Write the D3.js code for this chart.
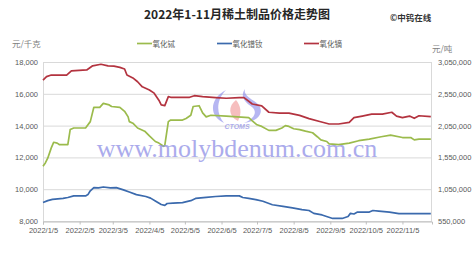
<!DOCTYPE html>
<html><head><meta charset="utf-8">
<script src="https://cdn.jsdelivr.net/npm/d3@7"></script>
<style>html,body{margin:0;padding:0;background:#fff;}svg{display:block;}</style>
</head><body><svg id="c" width="474" height="257"></svg>
<script>
// ---- data ----
const title = "2022年1-11月稀土制品价格走势图";
const seriesNames = ["氧化铽", "氧化镨钕", "氧化镝"];
const leftTicks = [8000, 10000, 12000, 14000, 16000, 18000];
const rightTicks = [550000, 1050000, 1550000, 2050000, 2550000, 3050000];
const xTickLabels = ["2022/1/5","2022/2/5","2022/3/5","2022/4/5","2022/5/5","2022/6/5","2022/7/5","2022/8/5","2022/9/5","2022/10/5","2022/11/5"];

// 氧化铽 (left axis, 元/千克)
const tbDates = ["2022/1/5","2022/1/7","2022/1/9","2022/1/12","2022/1/14","2022/1/17","2022/1/19","2022/1/26","2022/1/28","2022/1/31","2022/2/10","2022/2/14","2022/2/17","2022/2/22","2022/2/25","2022/3/2","2022/3/4","2022/3/11","2022/3/15","2022/3/18","2022/3/19","2022/3/22","2022/3/26","2022/4/1","2022/4/5","2022/4/10","2022/4/13","2022/4/17","2022/4/18","2022/4/21","2022/4/23","2022/5/3","2022/5/6","2022/5/10","2022/5/12","2022/5/17","2022/5/20","2022/5/23","2022/5/27","2022/6/9","2022/6/28","2022/7/1","2022/7/5","2022/7/9","2022/7/15","2022/7/21","2022/7/26","2022/7/29","2022/8/1","2022/8/5","2022/8/10","2022/8/15","2022/8/21","2022/8/25","2022/8/28","2022/9/2","2022/9/4","2022/9/12","2022/9/21","2022/9/29","2022/10/8","2022/10/18","2022/10/26","2022/11/5","2022/11/12","2022/11/15","2022/11/19","2022/11/29"];
const tbValues = [11450,11650,11950,12600,12950,12900,12800,12800,13750,13850,13850,14250,15150,15150,15400,15300,15200,15150,14900,14550,14250,14150,13850,13650,13350,13000,12900,12700,12750,14250,14350,14350,14450,14650,15200,15250,14800,14550,14650,14600,14500,14300,14050,13950,13700,13700,13850,14000,13950,13800,13750,13650,13550,13300,13100,13000,12850,12800,12900,13050,13150,13300,13400,13250,13250,13100,13150,13150];

// 氧化镨钕 (right axis, 元/吨)
const prndDates = ["2022/1/5","2022/1/9","2022/1/13","2022/1/22","2022/1/26","2022/1/31","2022/2/10","2022/2/12","2022/2/14","2022/2/17","2022/2/21","2022/2/25","2022/3/3","2022/3/8","2022/3/14","2022/3/19","2022/3/25","2022/4/2","2022/4/6","2022/4/10","2022/4/15","2022/4/18","2022/4/20","2022/4/25","2022/5/3","2022/5/10","2022/5/14","2022/5/23","2022/5/31","2022/6/9","2022/6/20","2022/6/23","2022/6/28","2022/7/4","2022/7/10","2022/7/18","2022/7/27","2022/8/4","2022/8/12","2022/8/18","2022/8/22","2022/8/29","2022/9/7","2022/9/15","2022/9/20","2022/9/22","2022/9/25","2022/9/28","2022/10/8","2022/10/11","2022/10/16","2022/10/25","2022/11/2","2022/11/29"];
const prndValues = [840000,870000,890000,905000,920000,945000,945000,965000,1025000,1075000,1070000,1085000,1070000,1075000,1040000,1005000,965000,935000,910000,865000,810000,795000,825000,830000,840000,870000,905000,920000,935000,945000,945000,920000,905000,885000,860000,805000,780000,755000,730000,715000,670000,645000,590000,590000,620000,670000,660000,690000,690000,715000,705000,690000,665000,665000];

// 氧化镝 (right axis, 元/吨)
const dyDates = ["2022/1/5","2022/1/8","2022/1/12","2022/1/25","2022/1/29","2022/2/11","2022/2/16","2022/2/23","2022/3/1","2022/3/6","2022/3/11","2022/3/15","2022/3/17","2022/3/22","2022/3/26","2022/3/30","2022/4/5","2022/4/9","2022/4/13","2022/4/15","2022/4/18","2022/4/21","2022/4/23","2022/5/9","2022/5/13","2022/5/20","2022/5/31","2022/6/9","2022/6/20","2022/6/24","2022/7/1","2022/7/9","2022/7/15","2022/7/24","2022/8/1","2022/8/10","2022/8/18","2022/8/27","2022/9/4","2022/9/12","2022/9/21","2022/9/25","2022/10/2","2022/10/10","2022/10/19","2022/10/27","2022/10/31","2022/11/5","2022/11/11","2022/11/15","2022/11/19","2022/11/29"];
const dyValues = [2765000,2820000,2845000,2845000,2910000,2925000,2990000,3015000,2990000,2985000,2965000,2940000,2845000,2800000,2740000,2660000,2610000,2560000,2450000,2375000,2365000,2505000,2495000,2495000,2520000,2505000,2490000,2480000,2490000,2490000,2390000,2360000,2260000,2245000,2245000,2210000,2160000,2115000,2075000,2075000,2100000,2175000,2200000,2230000,2230000,2260000,2200000,2175000,2200000,2165000,2205000,2190000];

// ---- chart ----
const parse = d3.timeParse("%Y/%m/%d");
const fmtX = d3.timeFormat("%Y/%-m/%-d");
const svg = d3.select("#c");
const L = 43, R = 432, T = 62, B = 221;
const font = "'Liberation Sans', Arial, sans-serif";
const cjk = "'Noto Sans CJK SC', sans-serif";

const x = d3.scaleTime().domain([parse("2022/1/5"), parse("2022/11/30")]).range([L, R]);
const yL = d3.scaleLinear().domain([8000, 18000]).range([B, T]);
const yR = d3.scaleLinear().domain([550000, 3050000]).range([B, T]);

// gridlines
svg.append("g").attr("transform", `translate(${L},0)`)
  .call(d3.axisLeft(yL).tickValues(leftTicks).tickSize(-(R - L)).tickFormat(""))
  .call(g => g.select(".domain").remove())
  .call(g => g.selectAll("line").attr("stroke", "#d9d9d9").attr("stroke-width", 1));

// plot border
svg.append("rect").attr("x", L + 0.5).attr("y", T + 0.5).attr("width", R - L - 1).attr("height", B - T)
  .attr("fill", "none").attr("stroke", "#d9d9d9");

// left axis labels
svg.append("g").attr("transform", `translate(${L - 5},0)`)
  .call(d3.axisLeft(yL).tickValues(leftTicks).tickSize(0).tickPadding(0).tickFormat(d3.format(",")))
  .call(g => g.select(".domain").remove())
  .call(g => g.selectAll("text").attr("font-family", font).attr("font-size", 7.5).attr("fill", "#595959"));

// right axis labels
svg.append("g").attr("transform", `translate(${R + 6},0)`)
  .call(d3.axisRight(yR).tickValues(rightTicks).tickSize(0).tickPadding(0).tickFormat(d3.format(",")))
  .call(g => g.select(".domain").remove())
  .call(g => g.selectAll("text").attr("font-family", font).attr("font-size", 7.5).attr("fill", "#595959"));

// bottom axis
svg.append("g").attr("transform", `translate(0,${B + 0.5})`)
  .call(d3.axisBottom(x).tickValues(xTickLabels.map(parse)).tickSize(3).tickPadding(3).tickFormat(fmtX))
  .call(g => g.select(".domain").attr("stroke", "#bfbfbf"))
  .call(g => g.selectAll("line").attr("stroke", "#bfbfbf"))
  .call(g => g.selectAll("text").attr("font-family", font).attr("font-size", 7.5).attr("fill", "#595959"));

// watermark logo
const logo = svg.append("g").attr("opacity", 0.55);
logo.append("path").attr("d", "M226,90 C210,98 208,116 224,123 C216,114 216,100 226,90 Z").attr("fill", "#7b7be8");
logo.append("path").attr("d", "M236,100 C228,106 228,116 238,121 C242,113 241,106 236,100 Z").attr("fill", "#f08a8a");
logo.append("path").attr("d", "M245,89 C240,96 244,102 252,107 C258,112 254,119 244,123 C262,121 266,108 254,101 C246,96 244,93 245,89 Z").attr("fill", "#7b7be8");
logo.append("text").attr("x", 237).attr("y", 129).attr("text-anchor", "middle")
  .attr("font-family", font).attr("font-size", 7).attr("font-style", "italic").attr("font-weight", "bold")
  .attr("fill", "#6f6fe0").text("CTOMS");

// lines
const series = [
  {dates: tbDates, values: tbValues, y: yL, color: "#9bbb4c"},
  {dates: prndDates, values: prndValues, y: yR, color: "#3b6aad"},
  {dates: dyDates, values: dyValues, y: yR, color: "#b3333f"}
];
series.forEach(s => {
  const pts = s.dates.map((d, i) => [parse(d), s.values[i]]);
  const line = d3.line().x(d => x(d[0])).y(d => s.y(d[1]));
  svg.append("path").datum(pts).attr("d", line).attr("fill", "none")
    .attr("stroke", s.color).attr("stroke-width", 1.7).attr("stroke-linejoin", "round");
});

// watermark text
svg.append("text").attr("x", 237).attr("y", 157).attr("text-anchor", "middle")
  .attr("font-family", "'Liberation Serif', 'Times New Roman', serif").attr("font-size", 26)
  .attr("fill", "#8f8fe6").attr("opacity", 0.75).text("www.molybdenum.com.cn");

// title & texts
svg.append("text").attr("x", 237).attr("y", 19).attr("text-anchor", "middle")
  .attr("font-family", cjk).attr("font-size", 12).attr("font-weight", "bold").attr("fill", "#262626").text(title);
svg.append("text").attr("x", 390).attr("y", 21).attr("font-family", cjk).attr("font-size", 8.5)
  .attr("font-weight", "bold").attr("fill", "#333").text("©中钨在线");
svg.append("text").attr("x", 12).attr("y", 47).attr("font-family", cjk).attr("font-size", 8.5)
  .attr("fill", "#7f7f7f").text("元/千克");
svg.append("text").attr("x", 432).attr("y", 52).attr("font-family", cjk).attr("font-size", 8.5)
  .attr("fill", "#7f7f7f").text("元/吨");

// legend
const legendX = [137, 217, 304];
series.forEach((s, i) => {
  svg.append("line").attr("x1", legendX[i]).attr("x2", legendX[i] + 15).attr("y1", 43.5).attr("y2", 43.5)
    .attr("stroke", s.color).attr("stroke-width", 1.7);
  svg.append("text").attr("x", legendX[i] + 15.5).attr("y", 46.5).attr("font-family", cjk).attr("font-size", 7.5)
    .attr("fill", "#595959").text(seriesNames[i]);
});
</script></body></html>
